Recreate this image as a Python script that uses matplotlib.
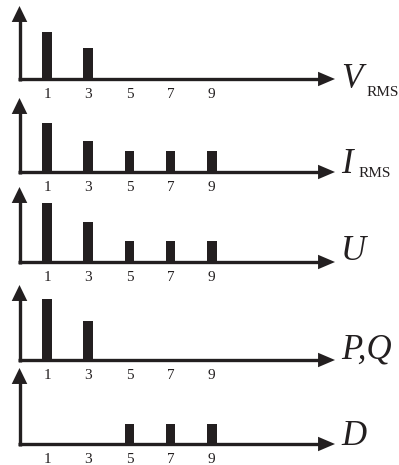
import matplotlib
matplotlib.use('Agg')
import matplotlib.pyplot as plt

# harmonic spectra (bar heights, in pixels)
harmonics = [1, 3, 5, 7, 9]
v_rms = [47, 31, 0, 0, 0]
i_rms = [49, 31, 21, 21, 21]
u_vals = [59, 40, 21, 21, 21]
pq_vals = [61, 39, 0, 0, 0]
d_vals = [0, 0, 20, 20, 20]

panels = [v_rms, i_rms, u_vals, pq_vals, d_vals]
names = ['V', 'I', 'U', 'P,Q', 'D']
subs = ['RMS', 'RMS', '', '', '']

# pixel rows of the horizontal axes and of the vertical arrow tips
axis_rows = [79, 172, 262, 360, 444]
tip_rows = [6, 98, 187, 285, 368]
name_dy = [-9, -1, 2, 2, -1]
sub_dy = [-17, -5, 0, 0, 0]
sub_x = [16.53, 16.1, 0, 0, 0]

W, H = 399, 465
px0, px_per_h = 26.4, 20.6    # x pixel = px0 + px_per_h * harmonic
ink = '#231f20'
serif = 'Liberation Serif'

fig = plt.figure(figsize=(W / 100, H / 100), dpi=100)

x_axis = (19.5 - px0) / px_per_h
x_tip = (335 - px0) / px_per_h
x_base = (319 - px0) / px_per_h

for k in range(len(panels)):
    below = 25
    top = axis_rows[k] - tip_rows[k]
    above = top + 5
    ax = fig.add_axes([0, (H - axis_rows[k] - below) / H, 1, (below + above) / H])
    ax.set_xlim(-px0 / px_per_h, (W - px0) / px_per_h)
    ax.set_ylim(-below, above)
    ax.axis('off')
    ax.patch.set_alpha(0)

    ax.bar(harmonics, panels[k], width=0.46, color=ink, linewidth=0)

    # axes with arrow heads
    ax.plot([x_axis - 1.6 / px_per_h, x_base + 0.1], [0, 0], color=ink, lw=2.4,
            solid_capstyle='butt')
    ax.plot([x_axis, x_axis], [-1.7, top - 14], color=ink, lw=2.4,
            solid_capstyle='butt')
    ax.annotate('', xy=(x_tip, 0), xytext=(x_base - 1, 0),
                arrowprops=dict(arrowstyle='-|>,head_length=12.2,head_width=5.2',
                                mutation_scale=1, lw=0, color=ink,
                                shrinkA=0, shrinkB=0))
    ax.annotate('', xy=(x_axis, top), xytext=(x_axis, top - 30),
                arrowprops=dict(arrowstyle='-|>,head_length=11.5,head_width=5.6',
                                mutation_scale=1, lw=0, color=ink,
                                shrinkA=0, shrinkB=0))

    for h in harmonics:
        ax.text(h, -19, str(h), ha='center', va='baseline', fontsize=11,
                family=serif, color=ink)

    ax.text(15.27, name_dy[k], names[k], ha='left', va='baseline', fontsize=25,
            family=serif, style='italic', color=ink)
    if subs[k]:
        ax.text(sub_x[k], sub_dy[k], subs[k], ha='left', va='baseline',
                fontsize=11, family=serif, color=ink)

fig.savefig('out.png', dpi=100)
